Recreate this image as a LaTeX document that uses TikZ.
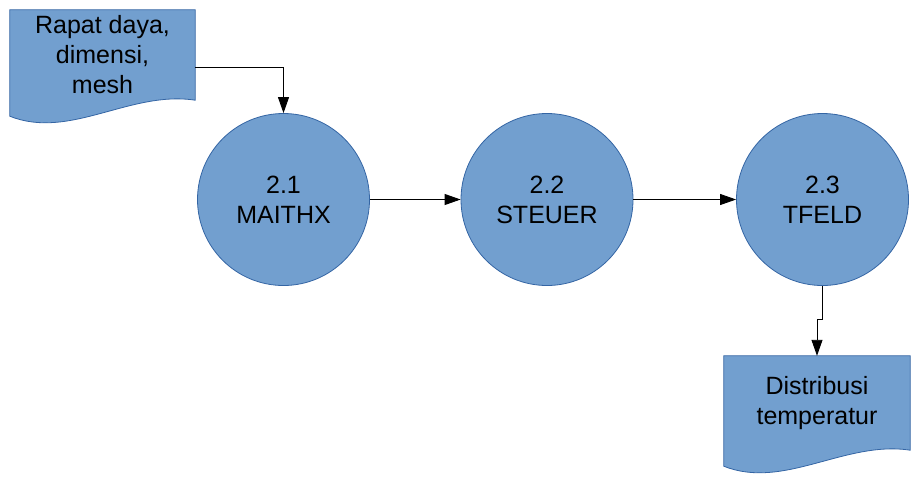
\documentclass[tikz,border=0pt]{standalone}
\usepackage{fontspec}
\setmainfont{Liberation Sans}
\usepackage{xcolor}
\usepackage{tikz}
\usetikzlibrary{arrows.meta,positioning,calc,backgrounds}

\definecolor{flowfill}{HTML}{729FCF}
\definecolor{flowedge}{HTML}{3465A4}

\begin{document}
\begin{tikzpicture}[
  x=1pt, y=1pt,
  docbox/.style={rectangle, inner sep=0pt, align=center, font=\fontsize{25}{30}\selectfont},
  proc/.style={circle, draw=flowedge, fill=flowfill, line width=0.8pt, minimum size=172pt, inner sep=0pt, align=center, font=\fontsize{25}{30}\selectfont},
  doc/.style={draw=flowedge, fill=flowfill, line width=0.8pt},
  arrow/.style={-{Triangle[length=16pt,width=11pt]}, line width=0.9pt}
]
\useasboundingbox (0,0) rectangle (921,-483);

% Input
\node[docbox, minimum width=185pt, minimum height=90pt] (rapat) at (102.5,-55) {Rapat daya,\\dimensi,\\mesh};

% Processes
\node[proc] (maithx) at (283.5,-199.5) {2.1\\MAITHX};
\node[proc] (steuer) at (547,-199.5) {2.2\\STEUER};
\node[proc] (tfeld) at (822.5,-199.5) {2.3\\TFELD};

% Output
\node[docbox, minimum width=186pt, minimum height=94pt] (distrib) at (817,-403) {Distribusi\\temperatur};

% Document shapes
\begin{scope}[on background layer]
\foreach \n in {rapat,distrib}
  \filldraw[doc] (\n.north west) -- (\n.north east) -- (\n.south east)
    .. controls ($(\n.south east)+(-65,10)$) and ($(\n.south west)+(60,-40)$) .. ($(\n.south west)+(0,-16)$) -- cycle;
\end{scope}

% Arrows
\draw[arrow] ([yshift=-12pt]rapat.east) -| (maithx.north);
\draw[arrow] (maithx) -- (steuer);
\draw[arrow] (steuer) -- (tfeld);
\draw[arrow] (tfeld.south) -- ++(0,-34) -| (distrib.north);

\end{tikzpicture}
\end{document}
